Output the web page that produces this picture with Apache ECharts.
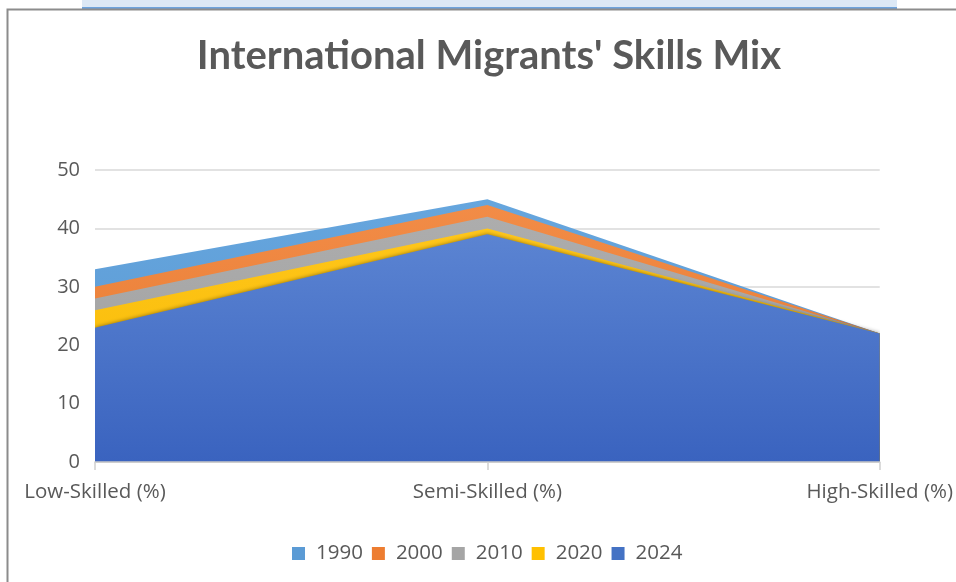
<!DOCTYPE html>
<html>
<head>
<meta charset="utf-8">
<script src="https://cdn.jsdelivr.net/npm/echarts@6/dist/echarts.min.js"></script>
<style>
  html, body { margin: 0; padding: 0; background: #ffffff; }
  #chart { width: 956px; height: 582px; }
</style>
</head>
<body>
<div id="chart"></div>
<script>
// Skill groups on the category axis
const categories = ['Low-Skilled (%)', 'Semi-Skilled (%)', 'High-Skilled (%)'];

// Share of international migrants per skill group, by year
const years = ['1990', '2000', '2010', '2020', '2024'];
const values1990 = [33, 45, 22];
const values2000 = [30, 44, 22];
const values2010 = [28, 42, 22];
const values2020 = [26, 40, 22];
const values2024 = [23, 39, 22];

// Value-axis ticks
const yTicks = [0, 10, 20, 30, 40, 50];

const seriesValues = [values1990, values2000, values2010, values2020, values2024];
const colors = [
  ['#66a6de', '#5795d0'],
  ['#f28c47', '#e4762c'],
  ['#adadad', '#9c9c9c'],
  ['#ffc61a', '#f5b800'],
  ['#5b84d2', '#3a63bf']
];
const legendColors = ['#5b9bd5', '#ed7d31', '#a5a5a5', '#ffc000', '#4472c4'];

const chart = echarts.init(document.getElementById('chart'), null, { renderer: 'canvas' });

const series = years.map((y, i) => ({
  name: y,
  type: 'line',
  data: seriesValues[i],
  symbol: 'none',
  showSymbol: false,
  lineStyle: { width: 0 },
  itemStyle: { color: legendColors[i] },
  areaStyle: {
    opacity: 1,
    color: new echarts.graphic.LinearGradient(0, 0, 0, 1, [
      { offset: 0, color: colors[i][0] },
      { offset: 1, color: colors[i][1] }
    ]),
    shadowBlur: i === 4 ? 4 : 0,
    shadowColor: 'rgba(0,0,0,0.45)'
  },
  emphasis: { disabled: true },
  z: 2 + i
}));

chart.setOption({
  animation: false,
  backgroundColor: '#ffffff',
  textStyle: { fontFamily: 'Open Sans, sans-serif' },
  title: {
    text: "International Migrants' Skills Mix",
    left: 484,
    textAlign: 'center',
    top: 31,
    textStyle: {
      fontFamily: 'Lato, sans-serif',
      fontSize: 40,
      fontWeight: 'bold',
      color: '#595959'
    }
  },
  legend: {
    data: years.map((y, i) => ({ name: y, itemStyle: { color: legendColors[i] } })),
    left: 287,
    top: 538,
    icon: 'rect',
    itemWidth: 13,
    itemHeight: 13,
    itemGap: 9,
    textStyle: { fontSize: 20.5, color: '#595959', padding: [0, 0, 0, 6] }
  },
  grid: { left: 95, right: 76, top: 170, bottom: 120, containLabel: false },
  xAxis: {
    type: 'category',
    data: categories,
    boundaryGap: false,
    axisLine: { lineStyle: { color: '#c8c8c8', width: 1.5 } },
    axisTick: { show: true, length: 8, lineStyle: { color: '#d0d0d0', width: 1.5 } },
    axisLabel: { fontSize: 20.5, color: '#595959', margin: 20, hideOverlap: false },
    z: 10
  },
  yAxis: {
    type: 'value',
    min: yTicks[0],
    max: yTicks[yTicks.length - 1],
    interval: yTicks[1] - yTicks[0],
    axisLine: { show: false },
    axisTick: { show: false },
    axisLabel: { fontSize: 20, color: '#595959', margin: 15 },
    splitLine: { lineStyle: { color: '#d9d9d9', width: 1.5 } }
  },
  graphic: [
    // page banner strip above the chart frame
    { type: 'rect', shape: { x: 82, y: 0, width: 815, height: 8 }, style: { fill: '#dce8f5' }, silent: true },
    { type: 'rect', shape: { x: 82, y: 7, width: 815, height: 2 }, style: { fill: '#6ea3dc' }, silent: true },
    // chart frame
    { type: 'rect', shape: { x: 7.5, y: 9.5, width: 980, height: 600 },
      style: { fill: 'none', stroke: '#8c8c8c', lineWidth: 2 }, silent: true }
  ],
  series: series
});
</script>
</body>
</html>
